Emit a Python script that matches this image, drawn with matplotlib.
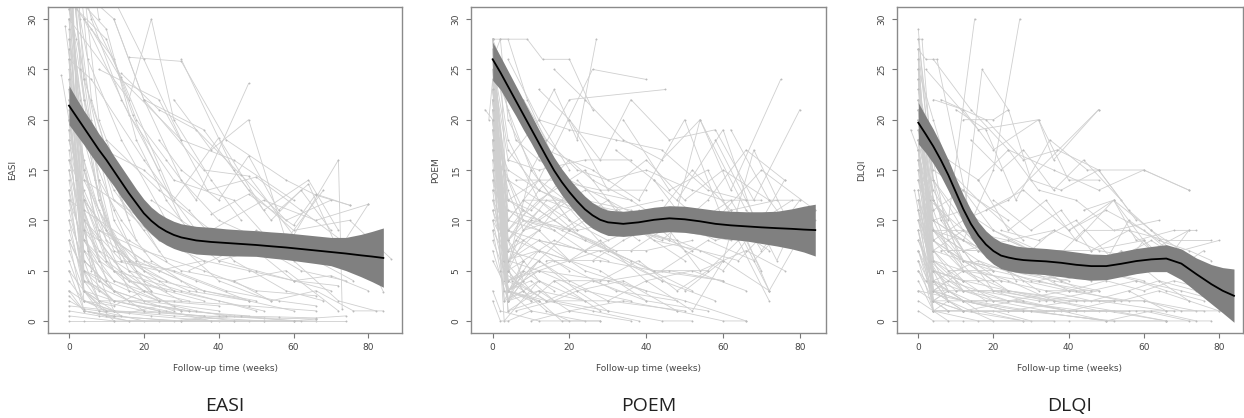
import matplotlib
matplotlib.use("Agg")
from matplotlib import pyplot as plt

fit_weeks = [0, 2, 4, 6, 8, 10, 12, 14, 16, 18, 20, 22, 24, 26, 28, 30,
             34, 38, 42, 46, 50, 54, 58, 62, 66, 70, 74, 78, 81, 84]

easi_fit = [21.4, 20.3, 19.2, 18.1, 17.0, 16.0, 14.9, 13.8, 12.7, 11.7, 10.7, 9.95, 9.35, 8.9, 8.55, 8.3,
            8.0, 7.85, 7.75, 7.65, 7.55, 7.42, 7.3, 7.15, 7.0, 6.85, 6.7, 6.52, 6.4, 6.26]
easi_upper = [23.4, 22.1, 20.9, 19.8, 18.6, 17.6, 16.4, 15.3, 14.2, 13.1, 12.1, 11.3, 10.7, 10.25, 9.9, 9.65,
              9.4, 9.3, 9.15, 9.05, 8.97, 8.85, 8.75, 8.6, 8.45, 8.3, 8.3, 8.6, 8.9, 9.24]
easi_lower = [19.5, 18.5, 17.5, 16.4, 15.4, 14.4, 13.4, 12.3, 11.3, 10.3, 9.4, 8.65, 8.0, 7.55, 7.2, 6.95,
              6.65, 6.55, 6.48, 6.45, 6.42, 6.25, 6.1, 5.9, 5.7, 5.49, 5.0, 4.4, 3.9, 3.35]

poem_fit = [26.0, 24.7, 23.3, 21.9, 20.5, 19.1, 17.7, 16.3, 14.95, 13.8, 12.8, 11.9, 11.1, 10.5, 10.05, 9.8,
            9.65, 9.8, 10.05, 10.2, 10.1, 9.9, 9.65, 9.5, 9.4, 9.3, 9.22, 9.15, 9.08, 9.03]
poem_upper = [27.7, 26.3, 24.85, 23.4, 21.95, 20.5, 19.05, 17.6, 16.25, 15.1, 14.1, 13.2, 12.4, 11.75, 11.3, 11.0,
              10.9, 11.05, 11.3, 11.45, 11.4, 11.2, 11.0, 10.9, 10.85, 10.85, 10.9, 11.15, 11.4, 11.6]
poem_lower = [23.9, 23.0, 21.7, 20.4, 19.0, 17.7, 16.3, 15.0, 13.65, 12.5, 11.5, 10.6, 9.8, 9.2, 8.8, 8.5,
              8.4, 8.55, 8.75, 8.87, 8.8, 8.6, 8.3, 8.1, 7.95, 7.7, 7.45, 7.15, 6.85, 6.45]

dlqi_fit = [19.7, 18.55, 17.35, 16.0, 14.5, 12.8, 11.1, 9.65, 8.5, 7.6, 6.95, 6.5, 6.3, 6.15, 6.05, 6.0,
            5.92, 5.78, 5.58, 5.45, 5.45, 5.68, 5.95, 6.12, 6.2, 5.7, 4.65, 3.65, 3.0, 2.5]
dlqi_upper = [21.7, 20.35, 19.05, 17.6, 16.0, 14.2, 12.5, 11.05, 9.85, 8.95, 8.3, 7.85, 7.65, 7.45, 7.35, 7.3,
              7.2, 7.05, 6.85, 6.65, 6.6, 6.9, 7.2, 7.4, 7.58, 7.15, 6.25, 5.6, 5.3, 5.16]
dlqi_lower = [17.6, 16.7, 15.65, 14.4, 12.95, 11.4, 9.7, 8.3, 7.2, 6.3, 5.65, 5.2, 5.0, 4.85, 4.75, 4.7,
              4.6, 4.4, 4.2, 4.05, 4.1, 4.4, 4.7, 4.9, 4.9, 4.1, 2.9, 1.7, 0.8, -0.13]

# individual patient trajectories: (weeks, scores)
easi_paths = [
    ((0, 4, 12, 24, 36), (38, 22, 12, 8, 6)),
    ((0, 4, 16, 28), (34, 12, 6, 3)),
    ((-1, 4, 10, 20, 32, 48), (29.3, 15, 8, 5, 3, 2)),
    ((-2, 0, 4), (24.4, 20, 10)),
    ((0, 3, 5, 14, 26), (45, 30, 26, 18, 10)),
    ((0, 4, 8, 16, 24), (40, 33, 20, 12, 7)),
    ((0, 6, 14, 30, 44, 60), (32, 29, 24, 18, 16, 12)),
    ((0, 4, 12), (26, 8, 3)),
    ((0, 4, 12, 20, 40), (22, 6, 3, 2, 1)),
    ((0, 4, 8, 16, 28, 40, 52), (18, 10, 6, 4, 3, 2, 1)),
    ((0, 4, 12, 24), (15, 5, 2, 1)),
    ((0, 4, 16, 30, 48), (12, 4, 2, 1, 0.5)),
    ((0, 4, 8, 20), (10, 3, 1, 0)),
    ((0, 5, 12, 26, 38), (8, 4, 2, 1, 0)),
    ((0, 4, 12, 28, 52, 66), (6, 2, 1, 0.5, 0, 0)),
    ((0, 4, 16, 40), (5, 1, 0, 0)),
    ((0, 4, 10, 30, 60), (3, 1, 0.5, 0, 0)),
    ((0, 12, 24, 36, 52, 66), (1.5, 1, 0.8, 0.5, 0.3, 0.2)),
    ((0, 4, 24, 48, 74), (0, 0, 0, 0, 0)),
    ((0, 4, 8, 16, 24, 32, 44, 56, 66, 74), (2, 1.2, 1, 0.8, 1.5, 1, 0.5, 0.4, 0.3, 0.5)),
    ((10, 24, 38, 52, 66, 80), (18, 13, 9, 12, 10, 11.6)),
    ((12, 20, 36, 48, 60, 72, 73), (30, 22, 15, 14.4, 8.5, 16, 1.2)),
    ((4, 12, 18, 26, 34, 48), (30, 26, 20, 16, 12, 23.6)),
    ((16, 30, 42, 58, 66, 75), (26.2, 25.8, 18, 14, 12.5, 11.5)),
    ((20, 36, 48, 60, 75, 86), (22, 19, 13, 9, 10, 6.2)),
    ((8, 24, 37, 50, 62, 80, 84), (25, 22, 13, 14.3, 11, 6, 2.9)),
    ((0, 14, 28, 40, 52, 64, 72), (35, 24.2, 12, 18.2, 11, 14, 9)),
    ((4, 16, 28, 44, 56, 68), (30, 20.5, 14, 12, 7, 13)),
    ((14, 24, 34, 46, 58, 70), (24.6, 21, 19, 14.5, 10, 12)),
    ((28, 38, 48, 58), (22, 17, 20, 8)),
    ((24, 30, 40, 48, 56, 64, 72, 80), (18, 15, 12, 16.4, 11, 13.6, 7, 11.6)),
    ((30, 44, 54, 62, 70), (26, 15, 10, 13, 9)),
    ((38, 48, 60, 66, 75), (10.6, 12.6, 9.5, 12.6, 11.5)),
    ((22, 34, 46, 62, 74), (12, 9, 8.5, 5, 4)),
    ((26, 40, 50, 60, 70), (10, 6, 7, 4, 3)),
    ((32, 44, 50, 56, 66, 76), (5, 7, 9, 8, 6, 4)),
    ((4, 20, 32, 44, 58, 68), (18, 15, 11, 6, 3, 2)),
    ((4, 16, 28, 40, 54), (14, 11, 8, 4, 2)),
    ((8, 20, 36, 50, 66), (9, 7, 5, 3, 2.5)),
    ((12, 24, 36, 48, 60, 72), (6, 5, 6, 5, 4, 3.5)),
    ((0, 16, 30, 44, 58, 72), (12, 8, 5, 4, 5, 1)),
    ((0, 8, 20, 34, 48, 60), (16, 9, 6, 4, 2, 1)),
    ((0, 4, 14, 28, 42, 56, 66), (20, 10, 6, 5, 3, 2, 1.5)),
    ((0, 4, 12, 24, 36, 50), (28, 14, 8, 5, 3, 2)),
    ((0, 2, 6, 12, 20), (42, 32, 20, 10, 5)),
    ((0, 4, 8, 12, 20, 30), (36, 24, 14, 8, 4, 2)),
    ((0, 3, 7, 13, 22), (33, 22, 14, 7, 3)),
    ((0, 4, 10, 18, 26), (30, 18, 10, 5, 3)),
    ((0, 4, 12, 20), (24, 12, 5, 2)),
    ((0, 4, 12, 24), (20, 8, 4, 2)),
    ((0, 4, 8, 16, 32), (17, 7, 4, 2, 1)),
    ((0, 4, 12, 28), (14, 6, 3, 1)),
    ((0, 4, 12, 20, 36), (11, 5, 3, 1, 0.5)),
    ((0, 4, 8, 20), (9, 4, 2, 1)),
    ((0, 4, 12, 24, 44), (7, 3, 2, 1, 0)),
    ((0, 4, 10, 22, 38, 52), (4, 2, 1, 0.5, 0, 0)),
    ((0, 4, 12, 28, 40, 62), (2.5, 1, 0.5, 0, 0.5, 0)),
    ((0, 8, 16, 30, 46, 60, 66), (1, 0.5, 0, 0, 0.5, 0, 0.2)),
    ((0, 12, 30, 44, 60), (0.5, 0, 0, 0, 0)),
    ((0, 2, 4, 16), (38, 35, 24, 10)),
    ((0, 4, 6, 14, 26), (44, 30, 22, 12, 6)),
    ((0, 2, 8, 18), (31, 28, 18, 8)),
    ((0, 4, 16, 36), (27, 10, 4, 2)),
    ((0, 4, 12, 30, 50), (23, 9, 5, 3, 1)),
    ((0, 4, 8, 16, 24, 36, 48), (19, 11, 7, 5, 4, 3, 2)),
    ((0, 4, 12, 20, 32), (13, 7, 4, 3, 2)),
    ((0, 4, 16, 24, 40), (8, 5, 3, 2, 1.5)),
    ((0, 4, 8, 28, 48, 66), (5, 3, 2, 2, 1.5, 1)),
    ((0, 4, 12, 20, 28, 34, 42), (3, 2, 1.5, 3, 1.5, 1, 0.5)),
    ((2, 6, 14, 24), (36, 30, 22, 15)),
    ((0, 10, 18, 26, 34), (33, 29, 18, 12, 8)),
    ((0, 16, 22, 28, 38, 46), (30, 22, 30, 20, 14, 10)),
    ((0, 4, 8), (50, 40, 30)),
    ((0, 12, 20, 30), (40, 32, 26, 18)),
    ((2, 10, 17, 30), (31, 28, 20.5, 10)),
    ((6, 12, 20, 30, 40, 52), (32, 30, 22, 14, 10, 8)),
    ((0, 6, 20, 34), (26, 24, 16, 9)),
    ((44, 54, 66, 76, 84), (4, 2, 3, 1, 1)),
    ((40, 50, 60, 70, 80), (6, 5, 4, 4.5, 3)),
    ((48, 60, 72, 82), (8, 6, 2, 1)),
    ((0, 4, 8), (30, 9, 4)),
    ((0, 4, 12), (27, 4, 2)),
    ((0, 3, 8), (25, 12, 6)),
    ((0, 4, 10), (23, 3, 1)),
    ((0, 2, 6), (21, 14, 5)),
    ((0, 4, 12), (19, 2, 1)),
    ((0, 4, 8), (16, 9, 3)),
    ((0, 4, 12), (13, 3, 0)),
    ((0, 4, 8), (10, 6, 2)),
    ((0, 4, 12), (8, 1, 0.5)),
    ((0, 4, 10), (35, 15, 6)),
    ((0, 2, 8), (47, 20, 8)),
    ((0, 4, 12), (39, 6, 3)),
    ((0, 4, 8), (33, 5, 2)),
    ((0, 5, 12), (29, 7, 1)),
    ((0, 4, 14), (26, 3, 0.5)),
    ((0, 4, 8, 16), (22, 16, 11, 6)),
    ((0, 4, 16), (18, 13, 3)),
    ((0, 4, 12, 20), (31, 20, 13, 9)),
    ((0, 6, 12, 18), (28, 17, 11, 6)),
    ((0, 4, 12, 26), (24, 15, 7, 4)),
    ((0, 4, 10, 18, 30), (20, 12, 9, 6, 4)),
    ((0, 4, 8, 14, 22), (15, 9, 8, 5, 3)),
    ((0, 4, 12, 20), (12, 8, 5, 3)),
    ((0, 4, 10), (37, 11, 4)),
    ((0, 3, 10), (43, 25, 9)),
    ((0, 4, 8, 14), (32, 22, 12, 6)),
    ((4, 8, 16, 24), (20, 12, 5, 2)),
    ((4, 10, 20, 30), (12, 6, 3, 1)),
    ((8, 14, 22, 34), (14, 10, 6, 3)),
]

poem_paths = [
    ((0, 4, 12, 24, 36), (28, 18, 12, 8, 6)),
    ((0, 4, 9, 16, 28), (28, 28, 22, 16, 10)),
    ((0, 2, 4, 12, 22), (26, 28, 20, 14, 9)),
    ((12, 16, 22, 27), (20, 23, 18, 28)),
    ((0, 4, 10, 20, 30), (26, 21, 15, 10, 8)),
    ((0, 4, 12, 26, 40), (22, 10, 14, 25, 24)),
    ((0, 3, 10, 20, 45), (20, 4, 15, 22, 23)),
    ((0, 4, 12, 20, 30), (28, 3, 6, 4, 2)),
    ((0, 4, 8, 16), (27, 2, 5, 3)),
    ((0, 4, 12, 24, 40), (26, 6, 8, 5, 3)),
    ((0, 3, 8, 18, 30, 44), (24, 5, 9, 12, 7, 4)),
    ((0, 4, 12, 20, 36, 52), (23, 8, 11, 9, 6, 3)),
    ((0, 4, 10, 16, 28), (22, 3, 2, 4, 1)),
    ((0, 4, 12, 24), (21, 1, 3, 2)),
    ((0, 4, 14, 28, 46), (20, 7, 12, 10, 8)),
    ((0, 4, 12, 22, 34, 48), (19, 2, 6, 3, 4, 1)),
    ((0, 3, 12, 24), (18, 0, 4, 2)),
    ((0, 4, 8, 20, 32), (17, 10, 12, 9, 7)),
    ((0, 4, 12, 26, 38, 50), (16, 12, 14, 10, 9, 6)),
    ((0, 4, 16, 30), (15, 5, 8, 6)),
    ((0, 4, 12, 20, 28, 40), (14, 9, 7, 6, 5, 2)),
    ((0, 4, 12, 24, 36, 48, 62), (13, 11, 10, 13, 12, 9, 8)),
    ((0, 5, 14, 26, 38), (12, 4, 2, 1, 0)),
    ((0, 4, 12, 20, 30, 42, 60), (11, 7, 6, 9, 7, 5, 4)),
    ((0, 4, 10, 24), (10, 3, 1, 0)),
    ((0, 4, 12, 28, 44, 58), (9, 6, 5, 7, 4, 2)),
    ((0, 4, 16, 32, 48), (8, 4, 6, 3, 2)),
    ((0, 4, 12, 20, 36), (7, 2, 3, 1, 0)),
    ((0, 4, 12, 30, 50, 66), (6, 3, 5, 4, 2, 0)),
    ((0, 2, 12, 28), (3, 1, 0, 0)),
    ((0, 2, 4, 10), (2, 0, 0, 1)),
    ((-2, 0, 4, 12), (21, 20, 6, 9)),
    ((-1, 0, 4, 12, 20), (20, 24, 3, 7, 5)),
    ((0, 2, 4, 12, 20, 26, 36), (28, 26, 8, 13, 16, 14, 12)),
    ((4, 12, 20, 32, 44, 56, 66), (26, 20, 19, 18, 17, 13, 12)),
    ((8, 14, 22, 30, 40, 52, 60, 70), (22, 18, 15, 14, 15, 13, 12, 12)),
    ((12, 20, 30, 40, 50, 60, 72, 80), (23, 20, 13, 16, 12, 15, 12, 12)),
    ((16, 24, 34, 44, 54, 62, 75), (25, 22, 18, 16, 20, 13, 24)),
    ((20, 28, 36, 46, 58, 68, 80), (20, 16, 22, 18, 19, 12, 21)),
    ((14, 26, 38, 50, 60, 72), (17, 15, 12, 20, 10, 7)),
    ((22, 32, 44, 56, 66, 76), (14, 10, 8, 12, 17, 14)),
    ((24, 36, 46, 58, 70, 84), (12, 11, 9, 10, 15, 11)),
    ((18, 30, 42, 54, 64, 74), (9, 12, 8, 7, 6, 10)),
    ((26, 34, 44, 54, 66, 76), (6, 8, 10, 5, 7, 5)),
    ((28, 38, 48, 56, 64, 72), (4, 6, 3, 5, 8, 2)),
    ((30, 40, 52, 60, 72), (2, 4, 1, 6, 3)),
    ((10, 20, 34, 48, 60, 66), (0, 1, 2, 1, 0, 0)),
    ((6, 16, 30, 44, 52), (1, 2, 1, 0, 0)),
    ((4, 14, 26, 40, 56), (3, 2, 4, 2, 1)),
    ((32, 42, 52, 62, 70), (17, 14, 9, 11, 5)),
    ((34, 46, 56, 64, 72), (20, 13, 15, 9, 3)),
    ((36, 48, 58, 66, 78), (7, 10, 8, 9, 12)),
    ((38, 50, 60, 70, 76), (11, 7, 5, 10, 14)),
    ((40, 52, 62, 74), (9, 15, 11, 12)),
    ((42, 54, 62, 70, 80), (14, 10, 12, 7, 12)),
    ((44, 56, 68, 78), (5, 8, 6, 10)),
    ((46, 54, 66, 74, 84), (8, 20, 11, 8, 10)),
    ((48, 60, 70, 76), (12, 19, 8, 9)),
    ((50, 60, 68, 78), (3, 6, 17, 9)),
    ((58, 66, 74, 80), (18, 12, 6, 11)),
    ((0, 4, 12, 24, 40, 52), (26, 17, 13, 11, 9, 7)),
    ((0, 4, 8, 20, 28, 38), (24, 14, 10, 9, 11, 8)),
    ((0, 4, 12, 20), (25, 16, 20, 15)),
    ((0, 4, 10, 18, 30), (23, 12, 11, 14, 10)),
    ((0, 4, 8, 16, 24, 36, 48), (21, 13, 9, 10, 12, 10, 11)),
    ((0, 4, 12, 22, 34), (19, 15, 13, 11, 9)),
    ((0, 4, 12, 24, 32, 44), (17, 14, 12, 15, 11, 9)),
    ((0, 3, 8, 16, 24), (27, 15, 11, 9, 7)),
    ((0, 4, 6, 12, 20), (22, 5, 8, 7, 6)),
    ((0, 4, 8, 12), (20, 2, 6, 4)),
    ((0, 4, 10, 16, 22, 30), (18, 3, 4, 2, 3, 1)),
    ((0, 3, 8, 14, 20), (16, 2, 3, 1, 0)),
    ((0, 4, 12, 18, 28), (25, 1, 2, 0, 0)),
    ((0, 4, 12, 24, 36), (14, 4, 5, 3, 2)),
    ((0, 4, 12, 24, 36, 48, 60), (12, 9, 8, 7, 9, 8, 6)),
    ((0, 4, 12, 20, 28, 40, 52, 66), (10, 7, 9, 6, 8, 4, 5, 3)),
    ((2, 6, 12, 20, 30, 40), (24, 18, 16, 14, 12, 10)),
    ((2, 9, 13, 20, 26), (28, 28, 26, 26, 21)),
    ((62, 72, 80), (19, 12, 8)),
    ((64, 72, 84), (10, 3, 11)),
    ((0, 4, 8), (28, 4, 3)),
    ((0, 3, 8), (27, 2, 6)),
    ((0, 4, 12), (26, 3, 5)),
    ((0, 4, 10), (25, 5, 2)),
    ((0, 4, 8), (24, 2, 4)),
    ((0, 3, 12), (23, 6, 7)),
    ((0, 4, 8), (22, 4, 5)),
    ((0, 4, 12), (21, 3, 2)),
    ((0, 4, 8), (19, 5, 8)),
    ((0, 3, 10), (18, 6, 3)),
    ((0, 4, 12), (17, 3, 6)),
    ((0, 4, 8), (15, 8, 4)),
    ((0, 4, 12), (13, 2, 4)),
    ((0, 4, 8), (11, 5, 3)),
    ((0, 3, 12), (9, 3, 2)),
    ((0, 4, 8), (28, 9, 11)),
    ((0, 4, 12), (26, 10, 9)),
    ((0, 4, 8), (24, 8, 6)),
    ((0, 4, 12, 20), (22, 9, 12, 10)),
    ((0, 4, 8, 16), (20, 8, 10, 9)),
    ((0, 4, 12, 24), (27, 12, 10, 8)),
    ((0, 4, 12, 20), (23, 11, 9, 13)),
    ((4, 12, 24, 36), (16, 15, 16, 16)),
    ((6, 16, 28, 40), (14, 14, 13, 13)),
    ((8, 20, 32, 44), (12, 12, 11, 12)),
    ((10, 22, 34, 48), (10, 9, 10, 9)),
    ((12, 24, 40, 52), (8, 7, 7, 8)),
    ((14, 28, 42, 56), (6, 6, 5, 5)),
    ((16, 30, 46, 60), (4, 4, 5, 4)),
    ((2, 14, 30, 50), (5, 2, 2, 1)),
]

dlqi_paths = [
    ((0, 4, 12, 24), (29, 12, 6, 3)),
    ((0, 1, 4, 12), (28, 28, 14, 5)),
    ((0, 2, 5, 14, 26), (27, 26, 26, 10, 4)),
    ((0, 4, 8, 15), (24, 12, 10, 30)),
    ((0, 4, 12, 20, 27), (25, 10, 8, 15, 30)),
    ((0, 4, 12, 17, 24), (22, 14, 10, 25, 21)),
    ((0, 4, 12, 24, 48), (21, 8, 10, 12, 21)),
    ((0, 2, 4, 12, 20), (20, 14, 6, 4, 2)),
    ((0, 4, 8, 16, 24, 36), (19, 10, 7, 5, 4, 2)),
    ((0, 4, 12, 24, 36), (18, 3, 2, 1, 1)),
    ((0, 4, 8, 20), (17, 1, 2, 0)),
    ((0, 4, 12, 28, 40), (16, 6, 5, 4, 3)),
    ((0, 4, 12, 20, 32, 44), (15, 7, 9, 6, 5, 3)),
    ((0, 4, 12, 24, 36, 48, 60), (14, 9, 7, 8, 6, 5, 4)),
    ((0, 4, 8, 16, 28), (13, 2, 3, 1, 0)),
    ((0, 4, 12, 24, 36, 52), (12, 5, 4, 3, 2, 1)),
    ((0, 4, 16, 30, 46), (11, 4, 6, 4, 3)),
    ((0, 4, 12, 20, 34, 50, 66), (10, 3, 2, 2, 1, 1, 0)),
    ((0, 4, 12, 28), (9, 1, 1, 0)),
    ((0, 4, 12, 24, 40, 56), (8, 4, 3, 2, 3, 2)),
    ((0, 4, 8, 20, 30), (7, 2, 1, 1, 0)),
    ((0, 4, 12, 24, 44, 60, 74), (6, 3, 5, 3, 2, 2, 1)),
    ((0, 4, 12, 26, 40, 52, 66, 78), (5, 2, 1, 2, 1, 1, 0, 0)),
    ((0, 4, 16, 36), (4, 1, 0, 0)),
    ((0, 12, 24, 40, 60, 72), (3, 2, 1, 1, 1, 0)),
    ((0, 4, 12, 30, 50, 66), (2, 1, 1, 1, 0, 0)),
    ((0, 4, 12, 40, 66), (1, 0, 0, 0, 0)),
    ((-2, 0, 4, 12), (19, 17, 9, 7)),
    ((-1, 0, 4, 10), (13, 11, 5, 3)),
    ((0, 4, 12, 20, 28), (26, 8, 5, 3, 2)),
    ((0, 4, 10, 18), (24, 6, 4, 2)),
    ((0, 2, 6, 14, 22), (22, 18, 10, 6, 4)),
    ((0, 4, 8, 16, 26, 38), (20, 12, 9, 7, 6, 5)),
    ((0, 4, 12, 20, 30), (18, 11, 13, 9, 7)),
    ((0, 3, 12, 22, 36), (17, 12, 9, 7, 5)),
    ((0, 4, 12, 24, 36, 48), (16, 8, 6, 5, 4, 3)),
    ((0, 4, 12, 20, 32, 48, 60), (14, 10, 11, 9, 7, 6, 5)),
    ((0, 4, 8, 16, 24, 40), (12, 8, 7, 7, 5, 4)),
    ((0, 4, 12, 24, 36, 48, 62, 72), (10, 7, 6, 5, 9, 7, 6, 5)),
    ((0, 4, 12, 22, 34, 46, 58, 66, 76), (8, 5, 4, 4, 3, 3, 4, 3, 2)),
    ((4, 12, 20, 32, 36, 48), (22, 21, 17, 20, 16, 21)),
    ((10, 18, 26, 35, 45, 60, 72), (21, 19, 12, 18, 15, 15, 13)),
    ((12, 20, 24, 30, 38, 48, 58), (20, 20, 21, 14, 13, 15, 10)),
    ((14, 22, 28, 36, 44, 54), (18, 15, 17, 13, 16, 12)),
    ((8, 16, 24, 32, 42, 52, 64), (16, 14, 17, 13, 12, 9, 10)),
    ((16, 24, 34, 42, 52, 62, 72), (14, 9, 12, 8, 12, 7, 9)),
    ((20, 30, 38, 46, 56, 66, 78), (12, 9, 11, 7, 9, 8, 8)),
    ((18, 28, 40, 50, 60, 70), (11, 13, 9, 11, 9, 6)),
    ((22, 32, 42, 52, 62, 74), (9, 8, 10, 6, 8, 5)),
    ((24, 36, 44, 56, 68, 76), (8, 6, 9, 9, 5, 7)),
    ((26, 34, 46, 54, 64, 74), (7, 5, 4, 7, 4, 3)),
    ((28, 38, 48, 58, 70, 80), (6, 4, 5, 4, 3, 2)),
    ((30, 40, 50, 60, 68, 78), (5, 3, 4, 3, 4, 3)),
    ((32, 42, 54, 64, 72), (4, 3, 2, 3, 2)),
    ((34, 46, 56, 66, 76), (3, 2, 3, 1, 1)),
    ((36, 48, 58, 68), (2, 1, 1, 1)),
    ((38, 50, 62, 74), (1, 0, 1, 0)),
    ((40, 52, 62, 70, 80), (9, 12, 9, 7, 8)),
    ((44, 52, 58, 68, 74), (11, 12, 8, 9, 9)),
    ((48, 56, 62, 70), (15, 11, 9, 6)),
    ((50, 56, 64, 72, 78), (6, 10, 8, 7, 6)),
    ((54, 60, 66, 72), (5, 8, 6, 9)),
    ((56, 64, 72, 80), (3, 4, 2, 1)),
    ((0, 4, 8, 12, 20), (28, 16, 8, 6, 4)),
    ((0, 4, 12, 20), (27, 14, 9, 6)),
    ((0, 4, 8, 14), (25, 20, 15, 10)),
    ((0, 2, 8, 16, 28), (23, 20, 15, 12, 8)),
    ((0, 4, 12, 24), (21, 15, 13, 10)),
    ((0, 4, 10, 20, 32), (19, 13, 9, 6, 3)),
    ((0, 4, 12, 24, 38), (17, 9, 8, 6, 4)),
    ((0, 4, 12, 20, 36), (15, 12, 7, 3, 2)),
    ((0, 4, 12, 24, 40, 52), (13, 5, 3, 3, 2, 2)),
    ((0, 4, 12, 20, 28, 40), (11, 7, 3, 2, 2, 1)),
    ((0, 4, 8, 24, 44), (9, 3, 4, 2, 1)),
    ((0, 4, 12, 28, 52), (7, 4, 2, 1, 0)),
    ((0, 4, 16, 32, 48, 66), (5, 3, 3, 2, 2, 1)),
    ((0, 4, 12, 24, 42, 60, 70, 80), (3, 2, 2, 1, 2, 2, 1, 1)),
    ((4, 14, 24, 36, 48, 60, 72), (26, 21, 17, 15, 13, 15, 13)),
    ((2, 16, 32, 40, 48), (25, 19, 20, 14, 14)),
    ((6, 18, 28, 37, 48), (22, 20, 16, 17, 15)),
    ((0, 4, 8), (27, 4, 2)),
    ((0, 3, 8), (26, 6, 3)),
    ((0, 4, 12), (25, 3, 1)),
    ((0, 4, 8), (24, 2, 3)),
    ((0, 4, 12), (23, 7, 4)),
    ((0, 4, 8), (21, 5, 2)),
    ((0, 4, 12), (20, 9, 5)),
    ((0, 4, 8), (18, 3, 2)),
    ((0, 3, 12), (17, 6, 3)),
    ((0, 4, 8), (16, 4, 2)),
    ((0, 4, 12), (15, 2, 1)),
    ((0, 4, 8), (14, 6, 3)),
    ((0, 4, 12), (12, 4, 2)),
    ((0, 4, 8), (11, 1, 1)),
    ((0, 4, 12), (10, 5, 4)),
    ((0, 4, 8), (9, 2, 1)),
    ((0, 4, 12), (7, 3, 1)),
    ((0, 4, 8), (6, 1, 0)),
    ((0, 4, 12, 20), (22, 12, 7, 5)),
    ((0, 4, 8, 16), (20, 11, 7, 4)),
    ((0, 4, 12, 24), (18, 10, 8, 6)),
    ((0, 4, 12, 20), (16, 9, 6, 5)),
    ((4, 12, 24, 36), (9, 9, 8, 9)),
    ((6, 16, 28, 40), (7, 7, 6, 6)),
    ((8, 20, 32, 44), (5, 5, 4, 5)),
    ((10, 22, 34, 48), (3, 3, 2, 3)),
    ((12, 24, 40, 52), (2, 2, 1, 2)),
    ((14, 28, 42, 56), (1, 1, 1, 1)),
    ((2, 14, 30, 50), (4, 2, 1, 0)),
    ((16, 30, 46, 60), (8, 7, 7, 8)),
]

panels = [
    ("EASI", easi_paths, easi_fit, easi_upper, easi_lower),
    ("POEM", poem_paths, poem_fit, poem_upper, poem_lower),
    ("DLQI", dlqi_paths, dlqi_fit, dlqi_upper, dlqi_lower),
]

# axes boxes in figure fraction and x-limits of each panel
boxes = [
    (0.0386, 0.2033, 0.2846, 0.78),
    (0.3786, 0.2033, 0.2854, 0.78),
    (0.7208, 0.2033, 0.2784, 0.78),
]
xlims = [(-5.6, 89.0), (-5.65, 86.8), (-5.74, 86.4)]

fig = plt.figure(figsize=(12.44, 4.18), dpi=100)

for (name, paths, fit, upper, lower), box, xlim in zip(panels, boxes, xlims):
    ax = fig.add_axes(box)

    for weeks, scores in paths:
        ax.plot(weeks, scores, color='#cfcfcf', lw=0.6, marker='o', ms=1.4,
                mfc='#bcbcbc', mec='none', zorder=1)

    ax.fill_between(fit_weeks, lower, upper, color='#808080', lw=0, zorder=2)
    ax.plot(fit_weeks, fit, color='black', lw=1.3, zorder=3)

    ax.set_xlim(*xlim)
    ax.set_ylim(-1.2, 31.2)
    ax.set_xticks([0, 20, 40, 60, 80])
    ax.set_yticks([0, 5, 10, 15, 20, 25, 30])
    ax.tick_params(length=3.5, width=0.8, color='#777777', labelsize=6.5,
                   labelcolor='#444444', pad=4)
    for lab in ax.get_yticklabels():
        lab.set_rotation(90)
        lab.set_va('center')
    for sp in ax.spines.values():
        sp.set_color('#8a8a8a')
        sp.set_linewidth(1.0)

    ax.set_xlabel('Follow-up time (weeks)', fontsize=6.5, color='#444444', labelpad=8)
    ax.set_ylabel(name, fontsize=6.5, color='#444444', labelpad=8)

    cx = box[0] + box[2] / 2
    fig.text(cx, 0.028, name, ha='center', va='center', fontsize=14,
             family='Open Sans', color='#222222')

fig.savefig('out.png', dpi=100)
